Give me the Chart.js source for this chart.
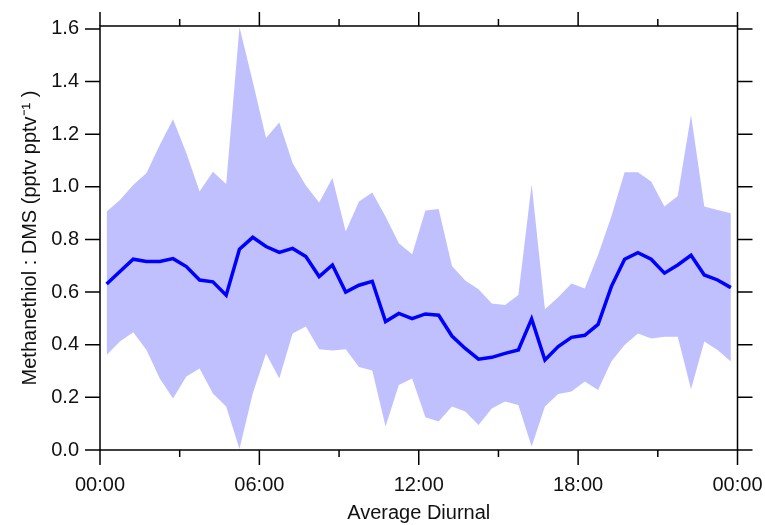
<!DOCTYPE html>
<html>
<head>
<meta charset="utf-8">
<script src="https://cdn.jsdelivr.net/npm/chart.js@4.4.1/dist/chart.umd.min.js"></script>
<style>
  body { margin: 0; background: #fff; }
  #wrap { width: 765px; height: 525px; }
</style>
</head>
<body>
<div id="wrap"><canvas id="diurnal"></canvas></div>
<script>
// half-hour bins, hours of the day
var times = [0.25, 0.75, 1.25, 1.75, 2.25, 2.75, 3.25, 3.75, 4.25, 4.75,
  5.25, 5.75, 6.25, 6.75, 7.25, 7.75, 8.25, 8.75, 9.25, 9.75,
  10.25, 10.75, 11.25, 11.75, 12.25, 12.75, 13.25, 13.75, 14.25, 14.75,
  15.25, 15.75, 16.25, 16.75, 17.25, 17.75, 18.25, 18.75, 19.25, 19.75,
  20.25, 20.75, 21.25, 21.75, 22.25, 22.75, 23.25, 23.75];

var mean = [0.631, 0.678, 0.725, 0.716, 0.716, 0.727, 0.697, 0.646, 0.639, 0.588,
  0.763, 0.808, 0.773, 0.751, 0.766, 0.735, 0.659, 0.703, 0.600, 0.626,
  0.641, 0.488, 0.519, 0.499, 0.517, 0.512, 0.433, 0.386, 0.345, 0.352,
  0.367, 0.380, 0.498, 0.342, 0.393, 0.428, 0.436, 0.477, 0.621, 0.725,
  0.750, 0.725, 0.672, 0.703, 0.740, 0.665, 0.646, 0.617];

var upper = [0.906, 0.950, 1.007, 1.052, 1.159, 1.257, 1.128, 0.982, 1.057, 1.011,
  1.607, 1.400, 1.185, 1.244, 1.090, 1.005, 0.940, 1.033, 0.830, 0.944,
  0.978, 0.887, 0.786, 0.744, 0.910, 0.916, 0.699, 0.644, 0.611, 0.557,
  0.551, 0.589, 1.010, 0.535, 0.580, 0.633, 0.614, 0.741, 0.887, 1.055,
  1.055, 1.020, 0.925, 0.965, 1.273, 0.925, 0.912, 0.900];

var lower = [0.361, 0.412, 0.447, 0.380, 0.272, 0.196, 0.279, 0.310, 0.215, 0.165,
  0.004, 0.215, 0.367, 0.272, 0.443, 0.469, 0.383, 0.378, 0.383, 0.315,
  0.302, 0.089, 0.247, 0.272, 0.124, 0.108, 0.165, 0.146, 0.095, 0.158,
  0.184, 0.171, 0.013, 0.165, 0.213, 0.222, 0.260, 0.228, 0.336, 0.399,
  0.443, 0.424, 0.430, 0.430, 0.231, 0.412, 0.380, 0.336];

var xMajor = [0, 6, 12, 18, 24];
var xTickLabels = ['00:00', '06:00', '12:00', '18:00', '00:00'];
var xMinor = [3, 9, 15, 21];
var yTicks = [0, 0.2, 0.4, 0.6, 0.8, 1.0, 1.2, 1.4, 1.6];

function pts(arr) {
  return arr.map(function (v, i) { return { x: times[i], y: v }; });
}

// frame + outward ticks, Igor style
var frame = {
  id: 'frame',
  afterDraw: function (chart) {
    var ctx = chart.ctx, a = chart.chartArea;
    var x = chart.scales.x, y = chart.scales.y;
    ctx.save();
    ctx.strokeStyle = '#000';
    ctx.lineWidth = 1.5;
    ctx.strokeRect(a.left, a.top, a.right - a.left, a.bottom - a.top);
    ctx.beginPath();
    xMajor.forEach(function (h) {
      var px = x.getPixelForValue(h);
      ctx.moveTo(px, a.top); ctx.lineTo(px, a.top - 14);
      ctx.moveTo(px, a.bottom); ctx.lineTo(px, a.bottom + 15);
    });
    xMinor.forEach(function (h) {
      var px = x.getPixelForValue(h);
      ctx.moveTo(px, a.top); ctx.lineTo(px, a.top - 7);
      ctx.moveTo(px, a.bottom); ctx.lineTo(px, a.bottom + 7);
    });
    yTicks.forEach(function (v) {
      var py = y.getPixelForValue(v);
      ctx.moveTo(a.left, py); ctx.lineTo(a.left - 15, py);
      ctx.moveTo(a.right, py); ctx.lineTo(a.right + 15, py);
    });
    ctx.stroke();
    ctx.restore();
  }
};

var font = { family: '"Liberation Sans", Arial, sans-serif', size: 20 };

new Chart(document.getElementById('diurnal'), {
  type: 'line',
  data: {
    datasets: [
      { data: pts(mean), borderColor: '#0000ff', borderWidth: 3.5, pointRadius: 0, fill: false, tension: 0 },
      { data: pts(upper), borderWidth: 0, borderColor: 'rgba(0,0,0,0)', pointRadius: 0, fill: '+1', backgroundColor: '#c0c0ff', tension: 0 },
      { data: pts(lower), borderWidth: 0, borderColor: 'rgba(0,0,0,0)', pointRadius: 0, fill: false, tension: 0 }
    ]
  },
  options: {
    responsive: true,
    maintainAspectRatio: false,
    animation: false,
    layout: { padding: { top: 26, right: 27.5, left: 0, bottom: 0 } },
    plugins: { legend: { display: false }, tooltip: { enabled: false } },
    scales: {
      x: {
        type: 'linear',
        min: 0,
        max: 24,
        grid: { display: false, drawTicks: false },
        border: { display: false },
        afterFit: function (s) { s.height = 75; s.paddingLeft = 0; s.paddingRight = 0; },
        afterBuildTicks: function (s) { s.ticks = xMajor.map(function (v) { return { value: v }; }); },
        ticks: {
          color: '#111',
          font: font,
          padding: 23,
          maxRotation: 0,
          callback: function (v, i) { return xTickLabels[i]; }
        },
        title: { display: true, text: 'Average Diurnal', color: '#111', font: font, padding: { top: 0, bottom: 0 } }
      },
      y: {
        min: 0,
        max: 1.611,
        grid: { display: false, drawTicks: false },
        border: { display: false },
        afterFit: function (s) { s.width = 100; s.paddingTop = 0; s.paddingBottom = 0; },
        afterBuildTicks: function (s) { s.ticks = yTicks.map(function (v) { return { value: v }; }); },
        ticks: {
          color: '#111',
          font: font,
          padding: 21,
          callback: function (v) { return v.toFixed(1); }
        },
        title: { display: true, text: 'Methanethiol : DMS (pptv pptv\u207B\u00B9 )', color: '#111', font: font, padding: { top: 18, bottom: 0 } }
      }
    }
  },
  plugins: [frame]
});
</script>
</body>
</html>
